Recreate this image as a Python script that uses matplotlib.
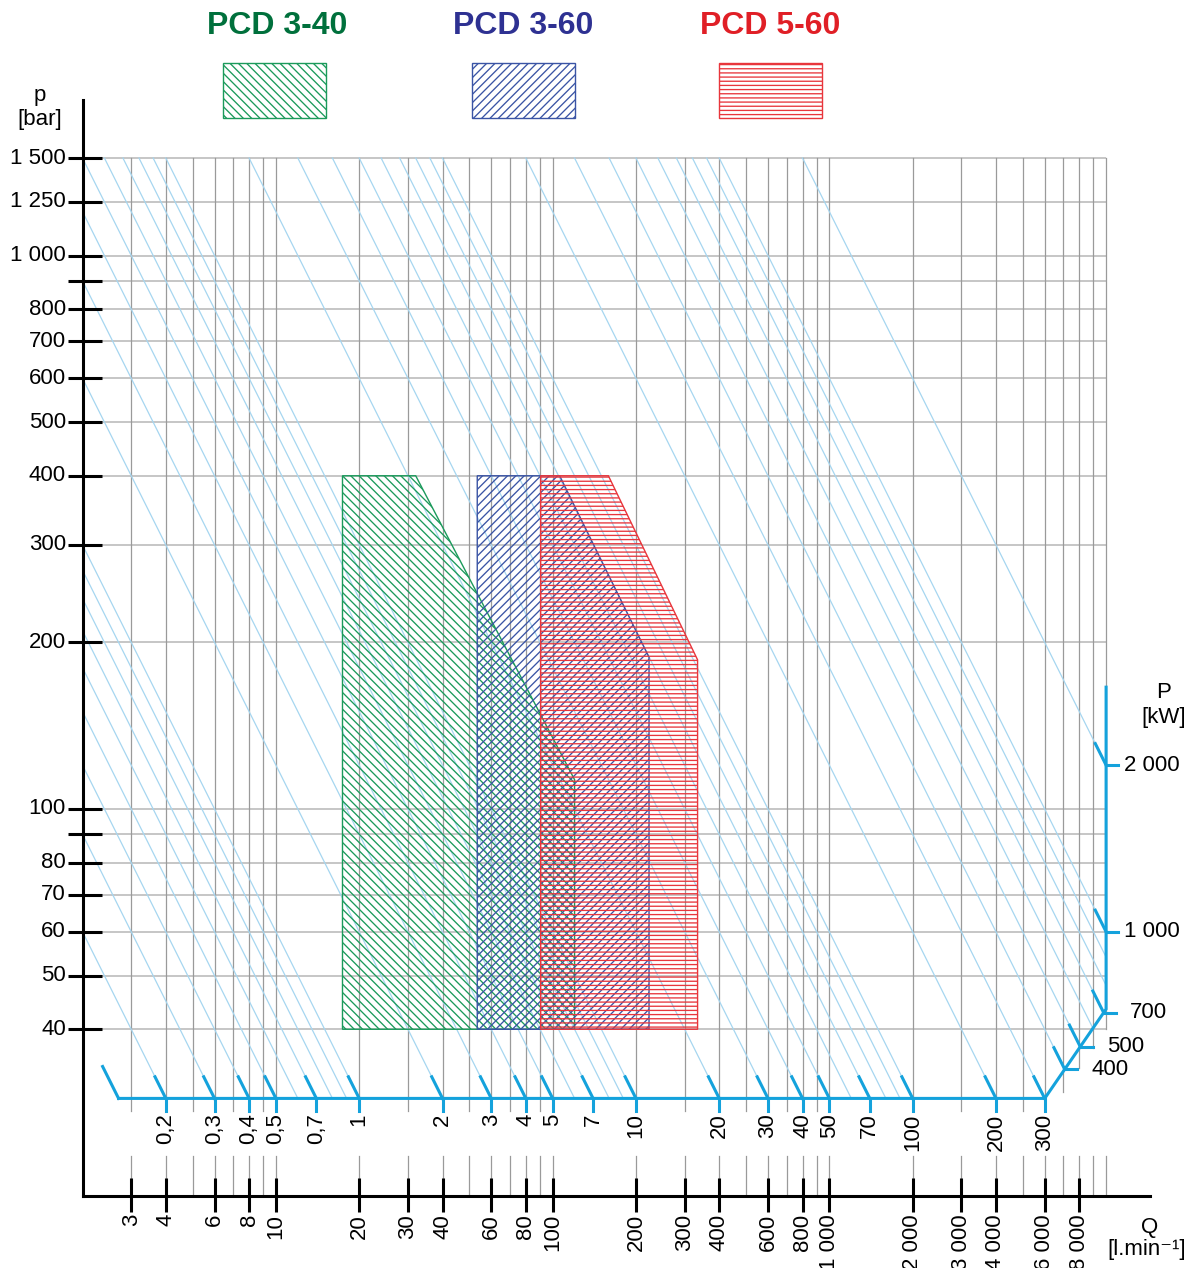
import matplotlib
matplotlib.use('Agg')
import matplotlib.pyplot as plt
import numpy as np
from matplotlib.patches import Rectangle
from matplotlib.ticker import NullLocator
from matplotlib import transforms

plt.rcParams['font.family'] = ['Liberation Sans', 'DejaVu Sans']
plt.rcParams['hatch.linewidth'] = 0.95

# grid values
p_grid = [40, 50, 60, 70, 80, 90, 100, 200, 300, 400, 500, 600, 700, 800, 900, 1000, 1250, 1500]
p_ticks = [40, 50, 60, 70, 80, 90, 100, 200, 300, 400, 500, 600, 700, 800, 900, 1000, 1250, 1500]
p_labels = ['40', '50', '60', '70', '80', '', '100', '200', '300', '400', '500', '600', '700', '800', '', '1 000', '1 250', '1 500']

q_grid = [3, 4, 5, 6, 7, 8, 9, 10, 20, 30, 40, 50, 60, 70, 80, 90, 100,
          200, 300, 400, 500, 600, 700, 800, 900, 1000,
          2000, 3000, 4000, 5000, 6000, 7000, 8000, 9000, 10000]
q_ticks = [3, 4, 6, 8, 10, 20, 30, 40, 60, 80, 100, 200, 300, 400, 600, 800,
           1000, 2000, 3000, 4000, 6000, 8000]
q_labels = ['3', '4', '6', '8', '10', '20', '30', '40', '60', '80', '100', '200', '300', '400',
            '600', '800', '1 000', '2 000', '3 000', '4 000', '6 000', '8 000']

# constant power lines  P = p*Q/600  [kW]
P_lines = [0.2, 0.3, 0.4, 0.5, 0.6, 0.7, 0.8, 0.9,
           1, 2, 3, 4, 5, 6, 7, 8, 9,
           10, 20, 30, 40, 50, 60, 70, 80, 90,
           100, 200, 300, 400, 500, 600, 700, 800, 900,
           1000, 2000]
P_ticks = [0.2, 0.3, 0.4, 0.5, 0.7, 1, 2, 3, 4, 5, 7, 10, 20, 30, 40, 50, 70, 100, 200, 300,
           400, 500, 700, 1000, 2000]
P_labels = ['0,2', '0,3', '0,4', '0,5', '0,7', '1', '2', '3', '4', '5', '7', '10', '20', '30',
            '40', '50', '70', '100', '200', '300', '400', '500', '700', '1 000', '2 000']

# pump ranges (Q l/min, p bar)
pcd340_q = [17.4, 17.4, 32, 120, 120]
pcd340_p = [40, 400, 400, 113, 40]
pcd360_q = [53.4, 53.4, 106, 223, 223]
pcd360_p = [40, 400, 400, 188, 40]
pcd560_q = [90.5, 90.5, 159, 334, 334]
pcd560_p = [40, 400, 400, 186, 40]

# power scale path (Q, p)
scale_q = [2.7, 6000, 10000, 10000]
scale_p = [30, 30, 43.5, 166]

GREEN = '#1b9a5b'
GREEN_T = '#00703c'
BLUE = '#3a54a5'
BLUE_T = '#2e3192'
RED = '#e8363c'
RED_T = '#e01f26'
CYAN = '#14a2dc'
LIGHT = '#a6d6f0'

W, H = 1192, 1268
fig = plt.figure(figsize=(W / 100, H / 100), dpi=100)
ax = fig.add_axes([82.5 / W, (H - 1196) / H, (1150 - 82.5) / W, (1196 - 100) / H])
ax.set_xscale('log')
ax.set_yscale('log')
ax.set_xlim(2, 10 ** (3 + (1150 - 829.4) / 276.7))
ax.set_ylim(10 ** (2 - (1196 - 809) / 553.5), 10 ** (2 + (809 - 100) / 553.5))
for a in (ax.xaxis, ax.yaxis):
    a.set_major_locator(NullLocator())
    a.set_minor_locator(NullLocator())
ax.spines['top'].set_visible(False)
ax.spines['right'].set_visible(False)
ax.spines['left'].set_linewidth(2.2)
ax.spines['bottom'].set_linewidth(2.2)

Q_MIN, Q_MAX, P_TOP, P_REF = 2, 10000, 1500, 30
a0 = np.log10(scale_p[1])
b0 = (np.log10(scale_p[2]) - a0) / (np.log10(scale_q[2]) - np.log10(scale_q[1]))
L0 = np.log10(scale_q[1])


def diag_p(q):
    return 10 ** (a0 + b0 * (np.log10(q) - L0))


def power_end(P):
    q = 600 * P / P_REF
    if q <= scale_q[1]:
        return q, P_REF, 'h'
    if 600 * P / Q_MAX >= scale_p[2]:
        return Q_MAX, 600 * P / Q_MAX, 'v'
    u = (np.log10(600 * P) - a0 + b0 * L0) / (1 + b0)
    return 10 ** u, 600 * P / 10 ** u, 'd'


# grid
ax.hlines(p_grid, Q_MIN, Q_MAX, colors='#b7b7b7', lw=1.1, zorder=1)
for q in q_grid:
    if q > scale_q[1]:
        lo = diag_p(q) / 1.087
    else:
        lo = 28.5
    ax.plot([q, q], [P_TOP, lo], color='#9a9a9a', lw=0.9, zorder=1)
    ax.plot([q, q], [23.6, 20], color='#9a9a9a', lw=0.9, zorder=1)

# power lines
for P in P_lines:
    q0 = max(Q_MIN, 600 * P / P_TOP)
    q1, p1, _ = power_end(P)
    ax.plot([q0, q1], [600 * P / q0, p1], color=LIGHT, lw=0.9, zorder=1.5)

# pump ranges
ax.fill(pcd340_q, pcd340_p, facecolor='none', edgecolor=GREEN, hatch='\\\\\\\\', lw=1.0, zorder=3)
ax.fill(pcd360_q, pcd360_p, facecolor='none', edgecolor=BLUE, hatch='////', lw=1.0, zorder=3)
ax.fill(pcd560_q, pcd560_p, facecolor='none', edgecolor=RED, hatch='----', lw=1.0, zorder=3)

# power scale
ax.plot(scale_q, scale_p, color=CYAN, lw=2.2, solid_joinstyle='miter', zorder=4, clip_on=False)
ax.plot([scale_q[0] / 1.142, scale_q[0]], [scale_p[0] * 1.142, scale_p[0]], color=CYAN, lw=2.2, zorder=4)
for P, lab in zip(P_ticks, P_labels):
    q, p, seg = power_end(P)
    ax.plot([q / 1.094, q], [p * 1.094, p], color=CYAN, lw=2.2, zorder=4, clip_on=False)
    if seg == 'h':
        ax.plot([q, q], [p, p / 1.055], color=CYAN, lw=2.2, zorder=4)
        ax.text(q, p / 1.065, lab, rotation=90, ha='center', va='top', fontsize=16)
    elif seg == 'd':
        ax.plot([q, q * 1.11], [p, p], color=CYAN, lw=2.2, zorder=4, clip_on=False)
        ax.text(q * 1.11 * 1.125, p, lab, ha='left', va='center', fontsize=16)
    else:
        ax.plot([q, q * 1.105], [p, p], color=CYAN, lw=2.2, zorder=4, clip_on=False)
        ax.text(q * 1.105 * 1.05, p, lab, ha='left', va='center', fontsize=16)

# p axis ticks
ty = transforms.blended_transform_factory(ax.transAxes, ax.transData)
for p, lab in zip(p_ticks, p_labels):
    ax.plot([(68 - 82.5) / 1067.5, (102 - 82.5) / 1067.5], [p, p], color='black', lw=2.2,
            transform=ty, clip_on=False, solid_capstyle='butt')
    ax.text((66 - 82.5) / 1067.5, p, lab, transform=ty, ha='right', va='center', fontsize=16)

# Q axis ticks
tx = transforms.blended_transform_factory(ax.transData, ax.transAxes)
for q, lab in zip(q_ticks, q_labels):
    ax.plot([q, q], [(1196 - 1178) / 1096, (1196 - 1212) / 1096], color='black', lw=2.2,
            transform=tx, clip_on=False, solid_capstyle='butt')
    ax.text(q, (1196 - 1214) / 1096, lab, transform=tx, rotation=90, ha='center', va='top', fontsize=16)


def fx(px):
    return px / W


def fy(py):
    return 1 - py / H


# axis titles
fig.text(fx(40), fy(96), 'p', ha='center', va='center', fontsize=16)
fig.text(fx(40), fy(119), '[bar]', ha='center', va='center', fontsize=16)
fig.text(fx(1164), fy(693), 'P', ha='center', va='center', fontsize=16)
fig.text(fx(1164), fy(717), '[kW]', ha='center', va='center', fontsize=16)
fig.text(fx(1150), fy(1228), 'Q', ha='center', va='center', fontsize=16)
fig.text(fx(1147), fy(1250), '[l.min⁻¹]', ha='center', va='center', fontsize=16)

# legend
legend = [('PCD 3-40', GREEN_T, GREEN, '\\\\\\\\', 277, 223),
          ('PCD 3-60', BLUE_T, BLUE, '////', 523, 472),
          ('PCD 5-60', RED_T, RED, '----', 770, 719)]
for name, tcol, hcol, hatch, cx, x0 in legend:
    fig.text(fx(cx), fy(26), name, color=tcol, fontsize=23, fontweight='bold', ha='center', va='center')
    fig.add_artist(Rectangle((fx(x0), fy(118)), 103 / W, 55 / H, transform=fig.transFigure,
                             facecolor='none', edgecolor=hcol, hatch=hatch, lw=1.0))

fig.savefig('out.png', dpi=100)
